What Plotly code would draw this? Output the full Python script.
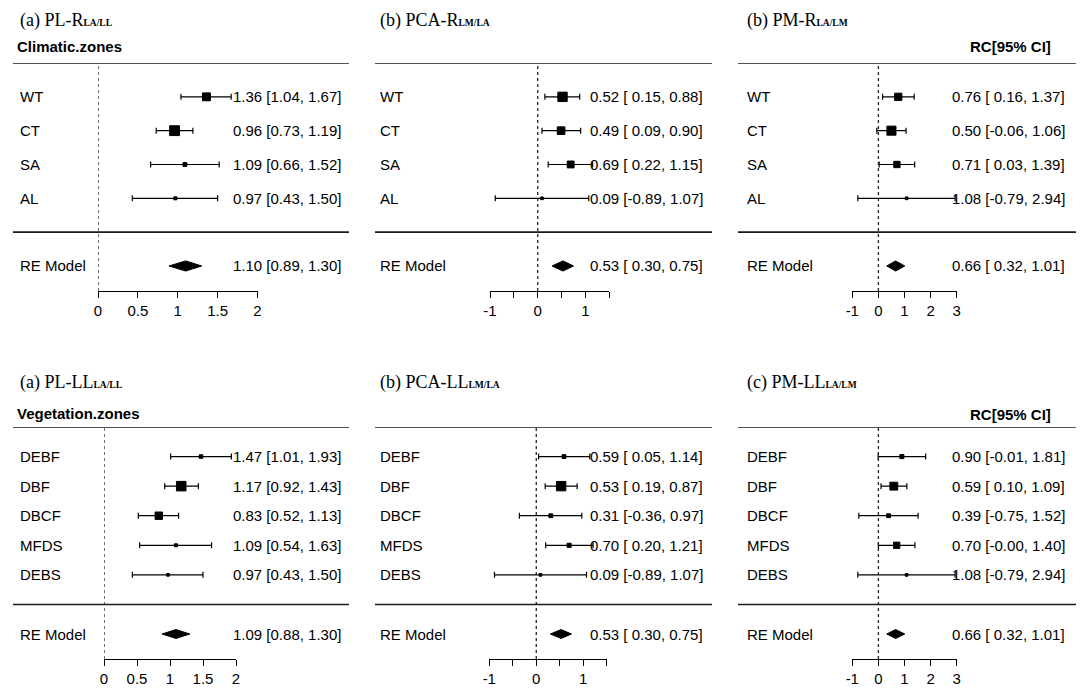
import plotly.graph_objects as go
import math

# ---------------- data ----------------
clim_labels = ["WT", "CT", "SA", "AL"]
veg_labels = ["DEBF", "DBF", "DBCF", "MFDS", "DEBS"]

# (a) PL-R  (climatic zones)
pl_r_est = [1.36, 0.96, 1.09, 0.97]
pl_r_lo = [1.04, 0.73, 0.66, 0.43]
pl_r_hi = [1.67, 1.19, 1.52, 1.50]
pl_r_weight = [34, 53, 8, 5]
pl_r_re = [1.10, 0.89, 1.30]

# (b) PCA-R
pca_r_est = [0.52, 0.49, 0.69, 0.09]
pca_r_lo = [0.15, 0.09, 0.22, -0.89]
pca_r_hi = [0.88, 0.90, 1.15, 1.07]
pca_r_weight = [48, 32, 26, 4]
pca_r_re = [0.53, 0.30, 0.75]

# (b) PM-R
pm_r_est = [0.76, 0.50, 0.71, 1.08]
pm_r_lo = [0.16, -0.06, 0.03, -0.79]
pm_r_hi = [1.37, 1.06, 1.39, 2.94]
pm_r_weight = [29, 45, 22, 4]
pm_r_re = [0.66, 0.32, 1.01]

# (a) PL-LL  (vegetation zones)
pl_ll_est = [1.47, 1.17, 0.83, 1.09, 0.97]
pl_ll_lo = [1.01, 0.92, 0.52, 0.54, 0.43]
pl_ll_hi = [1.93, 1.43, 1.13, 1.63, 1.50]
pl_ll_weight = [7, 50, 30, 5, 4]
pl_ll_re = [1.09, 0.88, 1.30]

# (b) PCA-LL
pca_ll_est = [0.59, 0.53, 0.31, 0.70, 0.09]
pca_ll_lo = [0.05, 0.19, -0.36, 0.20, -0.89]
pca_ll_hi = [1.14, 0.87, 0.97, 1.21, 1.07]
pca_ll_weight = [8, 48, 8, 9, 4]
pca_ll_re = [0.53, 0.30, 0.75]

# (c) PM-LL
pm_ll_est = [0.90, 0.59, 0.39, 0.70, 1.08]
pm_ll_lo = [-0.01, 0.10, -0.75, -0.001, -0.79]
pm_ll_hi = [1.81, 1.09, 1.52, 1.40, 2.94]
pm_ll_weight = [9, 34, 8, 22, 4]
pm_ll_re = [0.66, 0.32, 1.01]

titles = [("(a) PL-R", "LA/LL"), ("(b) PCA-R", "LM/LA"), ("(b) PM-R", "LA/LM"),
          ("(a) PL-LL", "LA/LL"), ("(b) PCA-LL", "LM/LA"), ("(c) PM-LL", "LA/LM")]

# (major ticks, labels, minor ticks, axis range)
tick_sets = [
    ([0, 0.5, 1, 1.5, 2], ["0", "0.5", "1", "1.5", "2"], [], [0, 2]),
    ([-1, 0, 1], ["-1", "0", "1"], [-0.5, 0.5, 1.5], [-1, 1.5]),
    ([-1, 0, 1, 2, 3], ["-1", "0", "1", "2", "3"], [], [-1, 3]),
]

panels = [
    dict(labels=clim_labels, est=pl_r_est, lo=pl_r_lo, hi=pl_r_hi, w=pl_r_weight, re=pl_r_re, ticks=tick_sets[0]),
    dict(labels=clim_labels, est=pca_r_est, lo=pca_r_lo, hi=pca_r_hi, w=pca_r_weight, re=pca_r_re, ticks=tick_sets[1]),
    dict(labels=clim_labels, est=pm_r_est, lo=pm_r_lo, hi=pm_r_hi, w=pm_r_weight, re=pm_r_re, ticks=tick_sets[2]),
    dict(labels=veg_labels, est=pl_ll_est, lo=pl_ll_lo, hi=pl_ll_hi, w=pl_ll_weight, re=pl_ll_re, ticks=tick_sets[0]),
    dict(labels=veg_labels, est=pca_ll_est, lo=pca_ll_lo, hi=pca_ll_hi, w=pca_ll_weight, re=pca_ll_re, ticks=tick_sets[1]),
    dict(labels=veg_labels, est=pm_ll_est, lo=pm_ll_lo, hi=pm_ll_hi, w=pm_ll_weight, re=pm_ll_re, ticks=tick_sets[2]),
]

# ---------------- layout geometry (page pixels) ----------------
OFF = 8                      # default page margin around the plot div
W, H = 1084 - OFF, 699 - OFF
SANS = "Liberation Sans, Arial, sans-serif"
SERIF = "Liberation Serif, Times New Roman, serif"
FS = 15

def px(x):
    return (x - OFF) / W

def py(y):
    return 1 - (y - OFF) / H

cols = [
    dict(label_x=18, text_r=343, line=(13, 349)),
    dict(label_x=378, text_r=705, line=(375, 712)),
    dict(label_x=745, text_r=1067, line=(738, 1082)),
]
axis_px = [(98, 257.5), (490, 609.3), (852.3, 956.7),
           (104, 236), (489.3, 606.7), (852.3, 956.7)]
rows_geo = [
    dict(axis=291, top=63, yr=[-1.74, 5], title=8, title_anchor="top", header=47),
    dict(axis=659, top=427, yr=[-1.845, 6], title=382, title_anchor="middle", header=413),
]

fig = go.Figure()
shapes = []
annotations = []
layout_axes = {}

for i, p in enumerate(panels):
    r, c = divmod(i, 3)
    g = rows_geo[r]
    col = cols[c]
    sfx = "" if i == 0 else str(i + 1)
    xa, ya = "x" + sfx, "y" + sfx
    n = len(p["labels"])
    ys = list(range(n, 0, -1))
    re_y = -1
    top_y = g["yr"][1]

    tv, tt, minor_v, xr = p["ticks"]
    xaxis = dict(
        domain=[px(axis_px[i][0]), px(axis_px[i][1])], range=xr, anchor=ya,
        showline=True, linecolor="black", linewidth=1, ticks="outside", ticklen=6,
        tickwidth=1, tickcolor="black", tickvals=tv, ticktext=tt,
        tickfont=dict(family=SANS, size=FS, color="black"), showgrid=False, zeroline=False,
        fixedrange=True, automargin=False,
    )
    if minor_v:
        xaxis["minor"] = dict(tickvals=minor_v, ticks="outside", ticklen=6, tickwidth=1,
                              tickcolor="black", showgrid=False)
    layout_axes["xaxis" + sfx] = xaxis
    layout_axes["yaxis" + sfx] = dict(
        domain=[py(g["axis"]), py(g["top"])], range=g["yr"], anchor=xa, visible=False,
        showgrid=False, zeroline=False, fixedrange=True, automargin=False,
    )

    # study estimates with CI
    sizes = [1.35 * math.sqrt(w) for w in p["w"]]
    fig.add_trace(go.Scatter(
        x=p["est"], y=ys, xaxis=xa, yaxis=ya, mode="markers",
        marker=dict(symbol="square", size=sizes, color="black", opacity=1,
                    line=dict(width=1, color="black")),
        error_x=dict(type="data", symmetric=False,
                     array=[h - e for h, e in zip(p["hi"], p["est"])],
                     arrayminus=[e - l for e, l in zip(p["est"], p["lo"])],
                     color="black", thickness=1.2, width=3),
        cliponaxis=False, showlegend=False, hoverinfo="skip",
    ))
    # RE model diamond
    est, lo, hi = p["re"]
    hgt = 0.15
    fig.add_trace(go.Scatter(
        x=[lo, est, hi, est, lo], y=[re_y, re_y + hgt, re_y, re_y - hgt, re_y],
        xaxis=xa, yaxis=ya, mode="lines", fill="toself", fillcolor="black",
        line=dict(color="black", width=1), cliponaxis=False, showlegend=False, hoverinfo="skip",
    ))

    # horizontal separator lines
    for yy in (top_y, 0):
        shapes.append(dict(type="line", xref="paper", yref=ya, x0=px(col["line"][0]), x1=px(col["line"][1]),
                           y0=yy, y1=yy, line=dict(color="#1a1a1a", width=1.6)))
    # dotted reference line at 0
    shapes.append(dict(type="line", xref=xa, yref=ya + " domain", x0=0, x1=0, y0=0, y1=1,
                       line=dict(color="#222222", width=1.3, dash="dot")))

    # row labels + value text
    neg = any(v < 0 for v in p["lo"]) or p["re"][1] < 0
    wd = 5 if neg else 4
    all_y = ys + [re_y]
    all_lab = p["labels"] + ["RE Model"]
    all_est = p["est"] + [est]
    all_lo = p["lo"] + [lo]
    all_hi = p["hi"] + [hi]
    for yy, lab, e, l, h in zip(all_y, all_lab, all_est, all_lo, all_hi):
        annotations.append(dict(xref="paper", yref=ya, x=px(col["label_x"]), y=yy, text=lab,
                                xanchor="left", yanchor="middle", showarrow=False,
                                font=dict(family=SANS, size=FS, color="black")))
        annotations.append(dict(xref="paper", yref=ya, x=px(col["text_r"]), y=yy,
                                text=f"{e:.2f} [{l:{wd}.2f}, {h:.2f}]",
                                xanchor="right", yanchor="middle", showarrow=False,
                                font=dict(family=SANS, size=FS, color="black")))

    # panel title (subscript drawn as small capitals on the baseline)
    t_main, t_sub = titles[i]
    annotations.append(dict(xref="paper", yref="paper", x=px(col["label_x"]), y=py(g["title"]),
                            text=f"{t_main}<span style='font-size:9.5px'><b>{t_sub}</b></span>",
                            xanchor="left", yanchor=g["title_anchor"],
                            showarrow=False, font=dict(family=SERIF, size=18, color="black")))

# group headers
annotations.append(dict(xref="paper", yref="paper", x=px(15), y=py(47), text="<b>Climatic.zones</b>",
                        xanchor="left", yanchor="middle", showarrow=False,
                        font=dict(family=SANS, size=FS, color="black")))
annotations.append(dict(xref="paper", yref="paper", x=px(15), y=py(413), text="<b>Vegetation.zones</b>",
                        xanchor="left", yanchor="middle", showarrow=False,
                        font=dict(family=SANS, size=FS, color="black")))
for yy in (47, 414):
    annotations.append(dict(xref="paper", yref="paper", x=px(1053), y=py(yy), text="<b>RC[95% CI]</b>",
                            xanchor="right", yanchor="middle", showarrow=False,
                            font=dict(family=SANS, size=FS, color="black")))

fig.update_layout(
    template="none",
    width=W, height=H, margin=dict(l=0, r=0, t=0, b=0, pad=0, autoexpand=False),
    paper_bgcolor="white", plot_bgcolor="white",
    shapes=shapes, annotations=annotations, showlegend=False,
    **layout_axes,
)

fig.write_html("out.html")
